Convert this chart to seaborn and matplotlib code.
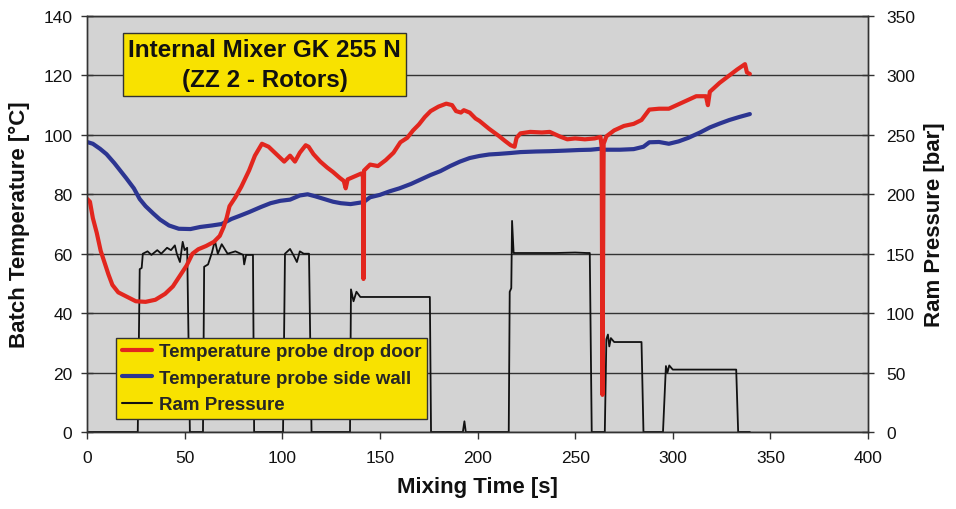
import matplotlib
matplotlib.use("Agg")
import matplotlib.pyplot as plt
from matplotlib.lines import Line2D
import seaborn as sns
import pandas as pd

# ---------------- data ----------------
# Temperature probe drop door (red)
t_door = [0, 1.5, 3, 5, 7, 9, 11, 13, 16, 19, 22, 25, 30, 35, 40, 44, 47.5, 51, 54, 57,
          61, 65, 68, 70, 71.5, 73, 76, 79, 83, 86, 89.6, 93, 97, 101, 104, 106.5, 109, 112,
          113.5, 116, 119.5, 123, 126, 129.5, 131.5, 132.5, 133.5, 137, 140.5, 141.3, 141.6,
          141.9, 145, 149, 153, 157, 160.5, 164, 167, 170, 173, 176, 180, 184, 187, 189,
          191.5, 193, 196, 199, 201, 206, 211, 214, 217, 219, 220, 222, 227, 233, 237, 242,
          246, 250, 255, 260, 263, 263.6, 264.0, 264.6, 266, 270, 275, 280, 284, 288, 293,
          298, 302, 307, 312, 317, 318, 319, 324, 329, 333, 337, 338, 339.5]
T_door = [78.5, 77.5, 72, 67, 61, 57, 53, 49.5, 47, 46, 45, 44, 43.8, 44.5, 46.5, 49, 52.5,
          56, 60, 61.5, 62.6, 64, 66, 69, 72, 76, 79, 82.5, 88, 93, 97, 96, 93.5, 91, 93, 91,
          94, 96.5, 96, 93.5, 91, 89, 87.5, 85.5, 84.5, 82, 85, 86, 87, 86, 51.5, 88, 90,
          89.5, 91.5, 94, 97.5, 99, 101.5, 103.5, 106, 108, 109.5, 110.5, 110, 108, 107.5,
          108.3, 107.5, 105.5, 104.7, 102, 99.6, 98, 96.5, 96, 99, 100.5, 101, 100.8, 101,
          99.5, 98.5, 98.8, 98.5, 98.8, 99.3, 96, 12.5, 97, 99.5, 101.5, 103, 103.7, 105,
          108.5, 108.8, 108.8, 110, 111.5, 113, 113, 110, 114.5, 117.5, 120, 122, 123.8,
          121, 120.5]

# Temperature probe side wall (blue)
t_wall = [0, 3, 6.7, 10, 14, 17, 20, 24, 27, 30, 34, 37.4, 42, 47, 53, 58, 64, 69, 74, 78,
          83, 89, 94, 99, 104, 109, 113, 117, 121, 126, 130, 135, 140, 141.4, 141.6, 141.9,
          145, 150, 155, 160, 166, 171, 176, 181, 186, 191, 196, 201, 206, 211, 217, 222,
          230, 237, 245, 252, 258, 262.7, 264.0, 264.1, 264.3, 273, 280, 285, 288, 293, 298,
          303, 308, 314, 319, 324, 329, 334, 339.5]
T_wall = [97.6, 97, 95.3, 93.5, 90.5, 88, 85.5, 82, 78.4, 76, 73.5, 71.5, 69.5, 68.4, 68.3,
          69, 69.5, 70, 71.7, 72.7, 74, 75.7, 77, 77.8, 78.2, 79.6, 80, 79.3, 78.5, 77.5, 77,
          76.7, 77.2, 77.4, 71, 77.5, 79, 79.8, 81, 82, 83.5, 85, 86.5, 87.8, 89.5, 91, 92.2,
          92.9, 93.4, 93.6, 93.9, 94.2, 94.4, 94.5, 94.7, 94.9, 95.0, 95.3, 95.3, 81.8, 95,
          95, 95.2, 96, 97.5, 97.6, 97, 97.8, 99, 100.8, 102.5, 103.8, 105, 106, 107]

# Ram pressure (black)
t_ram = [0, 26.0, 27.0, 28.0, 28.6, 31, 33, 36, 38, 41, 43, 45, 46, 47.6, 49, 50, 51.3, 52.7,
         59.4, 60.0, 62, 64, 65.5, 67, 69, 72, 76, 80, 80.5, 81.5, 85, 85.6,
         100.4, 101.4, 104, 106, 107.5, 109, 111, 113.7, 115.0,
         134.7, 135.2, 136.5, 138, 140, 150, 160, 170, 175.6, 176.2,
         192.5, 193.3, 194.0,
         216.0, 216.5, 217.3, 217.7, 218.5, 219.0, 230, 240, 250, 256, 257.5, 258.5,
         265.2, 266.0, 266.8, 267.5, 268.3, 270, 275, 280, 284.0, 285.0,
         295.0, 296.5, 297.3, 298.2, 300, 310, 320, 330, 332.5, 333.5, 339.5]
P_ram = [0, 0, 137, 138, 150, 152, 149, 153, 150, 155, 153, 157, 150, 143, 160, 153, 155, 0,
         0, 139, 141, 151, 161, 150, 158, 150, 152, 149, 141, 149, 149, 0,
         0, 150, 154, 148, 143, 152, 150, 150, 0,
         0, 120, 110, 118, 113.6, 113.6, 113.6, 113.6, 113.6, 0,
         0, 9, 0,
         0, 118, 121, 177.6, 150.6, 150.6, 150.6, 150.6, 151, 150.6, 150.6, 0,
         0, 78, 82, 72, 79, 75.7, 75.7, 75.7, 75.7, 0,
         0, 55.5, 50, 56, 52.5, 52.5, 52.5, 52.5, 52.5, 0, 0]

title_text = "Internal Mixer GK 255 N\n(ZZ 2 - Rotors)"
labels = ["Temperature probe drop door", "Temperature probe side wall", "Ram Pressure"]

# ---------------- style ----------------
sns.set_theme(style="white")
plt.rcParams["font.family"] = ["Liberation Sans", "DejaVu Sans"]

RED = "#E2261E"
BLUE = "#2C3591"
BLACK = "#111111"
YELLOW = "#F8E200"
BG = "#D3D3D3"
GRID = "#333333"

fig = plt.figure(figsize=(9.56, 5.10), dpi=100)
ax = fig.add_axes([87 / 956, (510 - 433) / 510, 781 / 956, 416 / 510])
ax2 = ax.twinx()

# pressure on secondary axis (drawn underneath)
df_ram = pd.DataFrame({"t": t_ram, "p": P_ram})
sns.lineplot(data=df_ram, x="t", y="p", ax=ax2, color=BLACK, lw=1.3,
             estimator=None, sort=False)

df_door = pd.DataFrame({"t": t_door, "T": T_door})
df_wall = pd.DataFrame({"t": t_wall, "T": T_wall})
sns.lineplot(data=df_wall, x="t", y="T", ax=ax, color=BLUE, lw=3.0,
             estimator=None, sort=False)
sns.lineplot(data=df_door, x="t", y="T", ax=ax, color=RED, lw=3.0,
             estimator=None, sort=False)

# primary axis on top, background on secondary axis
ax.set_zorder(ax2.get_zorder() + 1)
ax.patch.set_visible(False)
ax2.patch.set_visible(True)
ax2.patch.set_facecolor(BG)

ax.set_xlim(0, 400)
ax.set_ylim(0, 140)
ax2.set_ylim(0, 350)
ax.set_xticks(range(0, 401, 50))
ax.set_yticks(range(0, 141, 20))
ax2.set_yticks(range(0, 351, 50))

# grid drawn on the secondary (background) axis
ax2.set_xticks(range(0, 401, 50))
ax2.grid(True, which="major", axis="both", color=GRID, lw=1.0)
ax.grid(False)

for a in (ax, ax2):
    for s in a.spines.values():
        s.set_color(GRID)
        s.set_linewidth(1.0)

tick_font = 12.5
ax.tick_params(axis="y", direction="inout", length=9, width=1, color=GRID,
               pad=6, labelsize=tick_font, labelcolor="#111111", left=True)
ax.tick_params(axis="x", direction="out", length=5, width=1, color=GRID,
               pad=8, labelsize=tick_font, labelcolor="#111111", bottom=True)
ax2.tick_params(axis="y", direction="inout", length=8, width=1, color=GRID,
                pad=9, labelsize=tick_font, labelcolor="#111111", right=True)

ax.set_xlabel("Mixing Time [s]", fontsize=16, fontweight="bold", labelpad=8, color="#111111")
ax.set_ylabel("Batch Temperature [°C]", fontsize=16, fontweight="bold", labelpad=10, color="#111111")
ax2.set_ylabel("Ram Pressure [bar]", fontsize=16, fontweight="bold", labelpad=6, color="#111111")

# title box
ax.text(0.2273, 0.8834, title_text, transform=ax.transAxes, ha="center", va="center",
        fontsize=17.5, fontweight="bold", color="#111111", linespacing=1.4, zorder=10,
        bbox=dict(boxstyle="square,pad=0.22", facecolor=YELLOW, edgecolor="#333333", lw=1.0))

# legend
handles = [Line2D([], [], color=RED, lw=3.0),
           Line2D([], [], color=BLUE, lw=3.0),
           Line2D([], [], color=BLACK, lw=1.5)]
leg = ax.legend(handles, labels, loc="lower left", bbox_to_anchor=(0.0371, 0.031),
                borderaxespad=0, frameon=True, fancybox=False, framealpha=1,
                facecolor=YELLOW, edgecolor="#333333",
                prop={"weight": "bold", "size": 13.5},
                handlelength=1.6, handletextpad=0.4, labelspacing=0.5, borderpad=0.3)
leg.get_frame().set_linewidth(1.0)
leg.set_zorder(20)

fig.savefig("out.png", dpi=100)
